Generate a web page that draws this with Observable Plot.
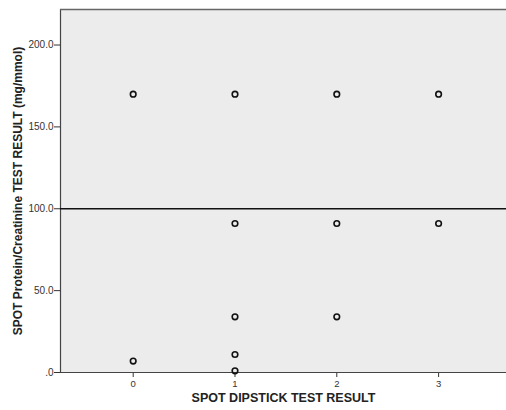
<!DOCTYPE html>
<html><head><meta charset="utf-8">
<script src="https://cdn.jsdelivr.net/npm/d3@7"></script>
<script src="https://cdn.jsdelivr.net/npm/@observablehq/plot@0.6"></script>
<style>body{margin:0;background:#fff;} svg{display:block;}</style>
</head><body>
<div id="chart"></div>
<script>
const dipstick = [0, 1, 2, 3, 1, 2, 3, 1, 2, 0, 1, 1];
const ratio = [170, 170, 170, 170, 91, 91, 91, 34, 34, 7, 11, 1];
const yTicks = [0, 50, 100, 150, 200];
const xTicks = [0, 1, 2, 3];
const refLine = [100];
const xTitle = "SPOT DIPSTICK TEST RESULT";
const yTitle = "SPOT Protein/Creatinine TEST RESULT (mg/mmol)";

const data = dipstick.map((d, i) => ({x: d, y: ratio[i]}));
const xDom = [-0.714, 3.667], yDom = [0, 221.7];

const chart = Plot.plot({
  width: 506, height: 410,
  marginLeft: 60, marginTop: 9, marginBottom: 38, marginRight: 0,
  style: {fontFamily: "Liberation Sans, Arial, sans-serif", background: "#fff"},
  x: {domain: xDom},
  y: {domain: yDom},
  marks: [
    Plot.frame({fill: "#ececec", stroke: null}),
    Plot.axisY({ticks: yTicks, tickFormat: d => d === 0 ? ".0" : d.toFixed(1), tickSize: 6, tickPadding: 1, fontSize: 10, label: null, color: "#333", stroke: "#333"}),
    Plot.axisX({ticks: xTicks, tickFormat: d => String(d), tickSize: 5, tickPadding: 3, fontSize: 9.5, label: null, color: "#333", stroke: "#333"}),
    Plot.ruleX([xDom[0]], {stroke: "#444", strokeWidth: 1.2}),
    Plot.ruleY([yDom[1]], {stroke: "#666", strokeWidth: 1.5}),
    Plot.ruleY([0], {stroke: "#444", strokeWidth: 1.2}),
    Plot.ruleY(refLine, {stroke: "#111", strokeWidth: 1.3}),
    Plot.dot(data, {x: "x", y: "y", r: 2.8, stroke: "#111", strokeWidth: 1.6, fill: "none"}),
    Plot.text([xTitle], {frameAnchor: "bottom", dy: 25, textAnchor: "middle", lineAnchor: "middle", fontWeight: "bold", fontSize: 12.5, fill: "#222"}),
    Plot.text([yTitle], {frameAnchor: "left", dx: -42, rotate: -90, textAnchor: "middle", lineAnchor: "middle", fontWeight: "bold", fontSize: 12, fill: "#222"})
  ]
});
document.getElementById("chart").append(chart);
</script>
</body></html>
